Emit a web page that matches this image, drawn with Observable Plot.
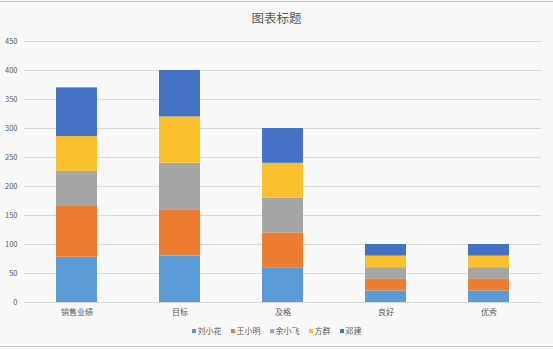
<!DOCTYPE html>
<html>
<head>
<meta charset="utf-8">
<script src="https://cdn.jsdelivr.net/npm/d3@7"></script>
<script src="https://cdn.jsdelivr.net/npm/@observablehq/plot@0.6"></script>
<style>
  html, body { margin: 0; padding: 0; background: #f8f8f8; }
  body { width: 553px; height: 349px; overflow: hidden; font-family: "Noto Sans CJK SC", "Noto Sans", sans-serif; position: relative; }
  #title { height: 30px; line-height: 36px; text-align: center; font-size: 12.5px; color: #595959; }
  #legend { display: flex; justify-content: center; gap: 9px; font-size: 8px; color: #595959; margin-top: 3px; }
  #legend span.sw { display: inline-block; width: 4px; height: 4px; margin-right: 2px; vertical-align: middle; }
  #legend div { display: flex; align-items: center; }
  .edge { position: absolute; left: 0; width: 553px; height: 1px; background: #c8c8c8; }
</style>
</head>
<body>
<div class="edge" style="top:1px"></div>
<div id="title">图表标题</div>
<div id="chart"></div>
<div id="legend"></div>
<div class="edge" style="top:346px"></div>
<script>
const categories = ["销售业绩", "目标", "及格", "良好", "优秀"];
const seriesNames = ["刘小花", "王小明", "余小飞", "方群", "邓建"];
const liuXiaohua = [78, 80, 60, 20, 20];
const wangXiaoming = [89, 80, 60, 20, 20];
const yuXiaofei = [59, 80, 60, 20, 20];
const fangQun = [60, 80, 60, 20, 20];
const dengJian = [84, 80, 60, 20, 20];
const yTicks = [0, 50, 100, 150, 200, 250, 300, 350, 400, 450];
const colors = ["#5B9BD5", "#ED7D31", "#A5A5A5", "#FBC02D", "#4472C4"];

const seriesValues = [liuXiaohua, wangXiaoming, yuXiaofei, fangQun, dengJian];
const data = [];
categories.forEach((c, i) => {
  seriesNames.forEach((s, j) => data.push({category: c, name: s, value: seriesValues[j][i]}));
});

const chart = Plot.plot({
  width: 553,
  height: 292,
  marginTop: 11,
  marginBottom: 20,
  marginLeft: 24,
  marginRight: 12,
  style: {background: "transparent", fontFamily: "'Noto Sans CJK SC', sans-serif", fontSize: "8px", color: "#595959"},
  x: {domain: categories, paddingInner: 0.6, paddingOuter: 0.3, label: null},
  y: {domain: [0, 450], ticks: yTicks, label: null},
  color: {domain: seriesNames, range: colors},
  marks: [
    Plot.gridY(yTicks, {stroke: "#d9d9d9", strokeOpacity: 1, strokeWidth: 1}),
    Plot.barY(data, {x: "category", y: "value", fill: "name"}),
    Plot.axisY(yTicks, {tickSize: 0, tickPadding: 7, fontSize: 7.5, fill: "#595959"}),
    Plot.axisX({tickSize: 0, tickPadding: 7, fontSize: 8, fill: "#595959"})
  ]
});
document.getElementById("chart").appendChild(chart);

const legend = document.getElementById("legend");
seriesNames.forEach((s, j) => {
  const d = document.createElement("div");
  d.innerHTML = `<span class="sw" style="background:${colors[j]}"></span>${s}`;
  legend.appendChild(d);
});
</script>
</body>
</html>
